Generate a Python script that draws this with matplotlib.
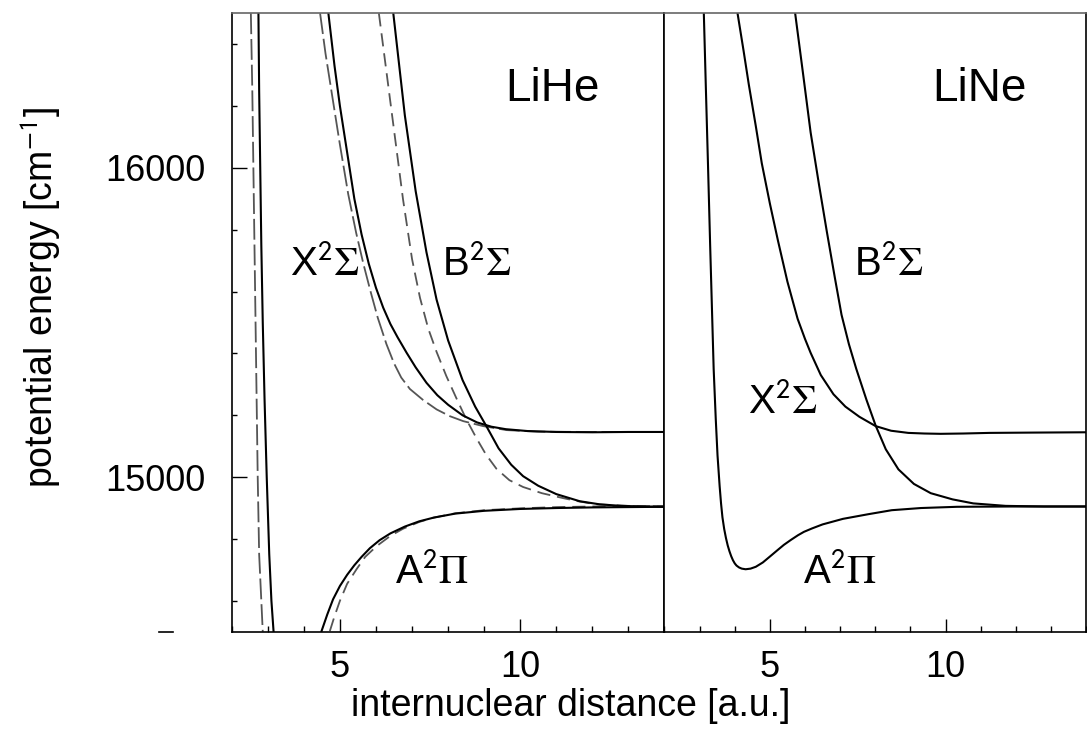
import matplotlib
matplotlib.use("Agg")
import matplotlib.pyplot as plt
from matplotlib.ticker import MultipleLocator
from matplotlib.lines import Line2D

plt.rcParams['font.family'] = ['Liberation Sans', 'DejaVu Sans']
plt.rcParams['mathtext.fontset'] = 'stix'
plt.rcParams['lines.scale_dashes'] = False

# ---- LiHe (left panel) ----
# solid curves
lihe_inner_r = [2.74, 2.76, 2.79, 2.82, 2.86, 2.91, 2.97, 3.04, 3.10, 3.16]
lihe_inner_e = [16500, 16250, 16000, 15750, 15500, 15250, 15000, 14750, 14600, 14500]

lihe_x_r = [4.68, 4.85, 5.0, 5.2, 5.4, 5.6, 5.8, 6.0, 6.2, 6.4, 6.6, 6.85, 7.1, 7.4,
            7.7, 8.0, 8.4, 8.8, 9.2, 9.6, 10.2, 11.0, 12.0, 13.0, 14.0]
lihe_x_e = [16500, 16330, 16200, 16050, 15900, 15785, 15690, 15612, 15548, 15495, 15452,
            15402, 15355, 15305, 15265, 15234, 15200, 15177, 15163, 15155, 15149, 15146,
            15145, 15146, 15146]

lihe_b_r = [6.48, 6.8, 7.1, 7.4, 7.68, 8.0, 8.4, 8.75, 9.06, 9.4, 9.75, 10.08, 10.5,
            11.0, 11.65, 12.2, 12.8, 13.4, 14.0]
lihe_b_e = [16500, 16170, 15925, 15727, 15574, 15442, 15314, 15228, 15165, 15093, 15040,
            15003, 14972, 14945, 14922, 14912, 14907, 14905, 14904]

lihe_a_r = [4.49, 4.65, 4.81, 5.0, 5.2, 5.4, 5.6, 5.83, 6.1, 6.4, 6.8, 7.2, 7.6, 8.2,
            9.0, 10.0, 11.0, 12.0, 13.0, 14.0]
lihe_a_e = [14502, 14556, 14605, 14648, 14684, 14715, 14742, 14770, 14796, 14818, 14840,
            14857, 14869, 14882, 14891, 14897, 14900, 14902, 14903, 14904]

# dashed curves (second calculation)
lihe_inner_d_r = [2.53, 2.57, 2.60, 2.63, 2.66, 2.69, 2.72, 2.76, 2.82, 2.86]
lihe_inner_d_e = [16500, 16250, 16000, 15750, 15500, 15250, 15000, 14750, 14600, 14500]

lihe_x_d_r = [4.45, 4.6, 4.81, 5.0, 5.23, 5.45, 5.65, 5.85, 6.05, 6.29, 6.5, 6.7, 6.94,
              7.3, 7.68, 8.05, 8.42, 8.97, 9.62, 10.5, 12.0, 14.0]
lihe_x_d_e = [16500, 16370, 16215, 16075, 15915, 15790, 15690, 15600, 15515, 15430,
              15368, 15322, 15285, 15250, 15219, 15197, 15181, 15165, 15152, 15147,
              15146, 15146]

lihe_b_d_r = [6.08, 6.39, 6.75, 7.0, 7.22, 7.45, 7.68, 7.95, 8.23, 8.5, 8.79, 9.05,
              9.34, 9.7, 10.08, 10.6, 11.19, 11.6, 12.11, 13.0, 14.0]
lihe_b_d_e = [16500, 16221, 15898, 15705, 15580, 15480, 15405, 15327, 15255, 15188,
              15125, 15073, 15027, 14990, 14968, 14948, 14932, 14922, 14912, 14907, 14905]

lihe_a_d_r = [4.72, 4.85, 5.0, 5.2, 5.46, 5.7, 6.02, 6.4, 6.75, 7.2, 7.6, 8.2, 9.0,
              10.0, 11.0, 12.0, 13.0, 14.0]
lihe_a_d_e = [14502, 14550, 14600, 14655, 14702, 14742, 14777, 14810, 14833, 14855,
              14869, 14883, 14893, 14899, 14903, 14905, 14906, 14906]

# ---- LiNe (right panel) ----
line_a_r = [3.12, 3.18, 3.24, 3.30, 3.36, 3.40, 3.46, 3.51, 3.57, 3.61, 3.65, 3.70,
            3.75, 3.80, 3.85, 3.90, 3.95, 4.0, 4.05, 4.12, 4.2, 4.31, 4.45, 4.6, 4.8,
            5.0, 5.23, 5.4, 5.6, 5.8, 5.97, 6.2, 6.5, 7.08, 7.8, 8.47, 9.3, 10.33,
            12.0, 14.0]
line_a_e = [16500, 16250, 16005, 15750, 15510, 15350, 15187, 15070, 14971, 14915, 14870,
            14832, 14803, 14779, 14760, 14744, 14731, 14721, 14714, 14708, 14704, 14702,
            14704, 14710, 14724, 14743, 14765, 14781, 14797, 14812, 14823, 14834, 14847,
            14865, 14880, 14893, 14900, 14904, 14905, 14905]

line_x_r = [4.08, 4.25, 4.40, 4.6, 4.77, 5.0, 5.23, 5.5, 5.79, 6.0, 6.16, 6.45, 6.81,
            7.15, 7.55, 8.01, 8.45, 8.94, 9.4, 9.86, 10.5, 11.25, 12.5, 14.0]
line_x_e = [16500, 16380, 16270, 16135, 16015, 15885, 15765, 15632, 15512, 15447, 15402,
            15330, 15268, 15228, 15195, 15165, 15150, 15143, 15141, 15140, 15141, 15143,
            15144, 15145]

line_b_r = [5.72, 5.95, 6.16, 6.4, 6.62, 6.85, 7.04, 7.25, 7.46, 7.75, 8.01, 8.3, 8.66,
            9.1, 9.58, 10.2, 10.79, 11.71, 12.8, 14.0]
line_b_e = [16500, 16300, 16115, 15945, 15795, 15645, 15525, 15430, 15350, 15250, 15167,
            15090, 15025, 14978, 14948, 14928, 14915, 14907, 14905, 14905]

xlim = (2, 14)
ylim = (14500, 16500)

fig = plt.figure(figsize=(10.87, 7.36), dpi=100)
ax1 = fig.add_axes([0.2132, 0.1417, 0.3981, 0.8402])
ax2 = fig.add_axes([0.6113, 0.1417, 0.3878, 0.8402])

solid = dict(color='black', lw=1.5)
long_dash = dict(color='#555555', lw=1.3, ls=(0, (15, 3.5)))
short_dash = dict(color='#555555', lw=1.3, ls=(0, (9.5, 5)))

# LiHe
ax1.plot(lihe_inner_d_r, lihe_inner_d_e, **long_dash)
ax1.plot(lihe_x_d_r, lihe_x_d_e, **long_dash)
ax1.plot(lihe_b_d_r, lihe_b_d_e, **short_dash)
ax1.plot(lihe_a_d_r, lihe_a_d_e, **short_dash)
ax1.plot(lihe_inner_r, lihe_inner_e, **solid)
ax1.plot(lihe_x_r, lihe_x_e, **solid)
ax1.plot(lihe_b_r, lihe_b_e, **solid)
ax1.plot(lihe_a_r, lihe_a_e, **solid)

# LiNe
ax2.plot(line_a_r, line_a_e, **solid)
ax2.plot(line_x_r, line_x_e, **solid)
ax2.plot(line_b_r, line_b_e, **solid)

for ax in (ax1, ax2):
    ax.set_xlim(*xlim)
    ax.set_ylim(*ylim)
    ax.set_xticks([5, 10])
    ax.xaxis.set_minor_locator(MultipleLocator(1))
    ax.tick_params(axis='x', which='major', direction='in', length=9.5, width=1.0,
                   labelsize=26, pad=13, top=False)
    ax.tick_params(axis='x', which='minor', direction='in', length=4.5, width=1.0, top=False)
    for s in ax.spines.values():
        s.set_linewidth(1.2)
        s.set_color('black')
    ax.spines['top'].set_color('#666666')

ax1.set_yticks([15000, 16000])
ax1.yaxis.set_minor_locator(MultipleLocator(200))
ax1.tick_params(axis='y', which='major', direction='in', length=11, width=1.0,
                labelsize=26, pad=19, right=False)
ax1.tick_params(axis='y', which='minor', direction='in', length=3.6, width=1.0, right=False)
ax2.set_yticks([])
ax2.yaxis.set_minor_locator(plt.NullLocator())

# panel names and state labels
ax1.text(10.9, 16256, 'LiHe', fontsize=33, ha='center', va='center')
ax2.text(10.96, 16256, 'LiNe', fontsize=33, ha='center', va='center')

lab = dict(fontsize=29, ha='left', va='baseline')
ax1.text(3.61, 15655, r'X$^{\mathsf{2}}\Sigma$', **lab)
ax1.text(7.82, 15655, r'B$^{\mathsf{2}}\Sigma$', **lab)
ax1.text(6.52, 14659, r'A$^{\mathsf{2}}\Pi$', **lab)
ax2.text(7.39, 15655, r'B$^{\mathsf{2}}\Sigma$', **lab)
ax2.text(4.38, 15208, r'X$^{\mathsf{2}}\Sigma$', **lab)
ax2.text(5.93, 14659, r'A$^{\mathsf{2}}\Pi$', **lab)

# small stray dash at the lower left
ax1.add_line(Line2D([-0.167, -0.136], [0.0, 0.0], transform=ax1.transAxes,
                    color='black', lw=1.2, clip_on=False))

fig.text(571 / 1087, 1 - 706 / 736, 'internuclear distance [a.u.]', fontsize=27,
         ha='center', va='center')
fig.text(41 / 1087, 1 - 298 / 736, r'potential energy [cm$^{\mathsf{-1}}$]', fontsize=27,
         ha='center', va='center', rotation=90)

fig.savefig('out.png', dpi=100)
